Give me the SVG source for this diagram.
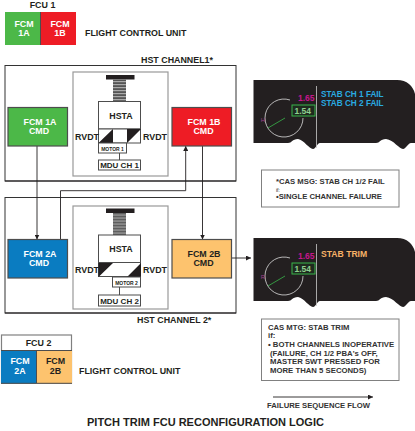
<svg xmlns="http://www.w3.org/2000/svg" width="415" height="431" viewBox="0 0 415 431">
<style>
text{font-family:"Liberation Sans",Arial,sans-serif;font-weight:bold;fill:#231f20}
.c{text-anchor:middle}
.w{fill:#fff}
.l{font-size:8.900px}
.h{font-size:8px}
.cmd{stroke:#4d4d4d;stroke-width:1.2}
.inner{fill:#fff;stroke:#999;stroke-width:1.2}
.box{fill:#fff;stroke:#333;stroke-width:1}
.n{fill:#fff;stroke:#4d4d4d;stroke-width:1}
.note{fill:#fff;stroke:#808080;stroke-width:1}
.conn{fill:none;stroke:#231f20;stroke-width:.9}
.t{font-size:7.700px;fill:#333}
.b{font-size:7.750px;fill:#333}
.gauge{fill:none;stroke:#ddd;stroke-width:.8}
</style>
<defs>
<marker id="a" markerWidth="5" markerHeight="5" refX="5" refY="2.5" orient="auto" markerUnits="userSpaceOnUse"><path d="M0 0L5 2.5L0 5z" fill="#231f20"/></marker>
<pattern id="s" width="4" height="3" patternUnits="userSpaceOnUse"><rect width="4" height="3" fill="#555"/><rect width="4" height="1.2" fill="#aaa"/></pattern>
<g id="act"><rect x="106" y="0" width="28.500" height="4.500" fill="#231f20"/><rect x="113" y="4.500" width="13" height="22" fill="url(#s)"/><rect x="98.500" y="26.500" width="42" height="27.500" class="n"/><rect x="98.500" y="54" width="42" height="14" class="n"/></g>
<g id="disp"><path d="M253.500 0H397C407 0 413 6 415 14V63H411C408 63 406 69 403 69C399 69 394 60 386 59C380 59 380 63 376 63H320C317 63 316 69 313 69C309 69 304 60 298 59C292 59 292 63 288 63H253.500Z" fill="#231f20"/><path d="M316.500 6V68" stroke="#ccc" stroke-width=".8"/><path d="M290 20A19 19 0 1 0 303 38" class="gauge"/><path d="M268 48L285 38" stroke="#39b54a" stroke-width=".8"/><rect x="292" y="25" width="23" height="11" fill="#1f2a1f" stroke="#39b54a" stroke-width="1"/><text x="298" y="20.500" font-size="8.500" style="fill:#c5168c">1.65</text><text x="294.500" y="34" font-size="8.500" style="fill:#8fd18f">1.54</text></g>
</defs>

<g id="fcu1"><text x="42.500" y="8" class="c l">FCU 1</text><rect x="5" y="12" width="35.500" height="33" fill="#4cb848"/><rect x="40.500" y="12" width="35.500" height="33" fill="#ee1c25"/><path d="M40.500 12V45" stroke="#4d4d4d"/><text x="24" y="26.500" class="c l w">FCM</text><text x="24" y="36" class="c l w">1A</text><text x="60" y="26.500" class="c l w">FCM</text><text x="60" y="36" class="c l w">1B</text></g>
<text id="fcu1-label" x="85" y="36" class="l">FLIGHT CONTROL UNIT</text>

<g id="hst1"><text x="141" y="63" class="l">HST CHANNEL1*</text><rect x="5" y="65.500" width="231" height="115.500" class="box"/><path d="M5 181H236" stroke="#231f20" stroke-width="1.2"/></g>
<g id="hsta1"><rect x="73" y="72" width="95" height="104" class="inner"/><use href="#act" y="75"/><path d="M98.500 143L113 129V143ZM127 129H141L127 143Z" fill="#231f20"/><text x="121" y="119" class="c l">HSTA</text><text x="75" y="139.500" class="l">RVDT</text><text x="143" y="139.500" class="l">RVDT</text></g>
<g id="motor1"><rect x="98.500" y="143" width="28" height="10" class="n"/><text x="112.500" y="150.500" class="c" font-size="5">MOTOR 1</text></g>
<g id="mdu1"><path d="M119.500 153V160" stroke="#4d4d4d"/><rect x="98.500" y="160" width="42" height="10" class="n"/><text x="119.500" y="168" class="c h">MDU CH 1</text></g>

<g id="hst2"><rect x="5" y="197.500" width="231" height="115.500" class="box"/><path d="M5 313H236" stroke="#231f20" stroke-width="1"/><text x="137" y="322.500" class="l">HST CHANNEL 2*</text></g>
<g id="hsta2"><rect x="73" y="206" width="95" height="103" class="inner"/><use href="#act" y="208.500"/><path d="M98.500 263H113L98.500 277ZM141 263V277H127Z" fill="#231f20"/><text x="121" y="252" class="c l">HSTA</text><text x="75" y="272.500" class="l">RVDT</text><text x="143" y="272.500" class="l">RVDT</text></g>
<g id="motor2"><rect x="112.500" y="277" width="28" height="10" class="n"/><text x="126.500" y="284.500" class="c" font-size="5">MOTOR 2</text></g>
<g id="mdu2"><path d="M119.500 287V295" stroke="#4d4d4d"/><rect x="98.500" y="295" width="42" height="11" class="n"/><text x="119.500" y="303.500" class="c h">MDU CH 2</text></g>

<g id="connectors">
<path class="conn" d="M37 146V239.500" marker-end="url(#a)"/>
<path class="conn" d="M60.500 239.500V190.700H185.700V146" marker-end="url(#a)"/>
<path class="conn" d="M202.500 146V239.500" marker-end="url(#a)"/>
<path class="conn" d="M231.500 258H251" marker-end="url(#a)"/>
<path class="conn" d="M273 397H373" marker-end="url(#a)"/>
</g>

<g id="fcm1a"><rect x="8" y="107.500" width="59.500" height="38.500" fill="#4cb848" class="cmd"/><text x="40" y="125" class="c l w">FCM 1A</text><text x="39" y="134" class="c l w">CMD</text></g>
<g id="fcm1b"><rect x="172" y="107.500" width="59.500" height="38.500" fill="#ee1c25" class="cmd"/><text x="204" y="125" class="c l w">FCM 1B</text><text x="203.500" y="134" class="c l w">CMD</text></g>
<g id="fcm2a"><rect x="8" y="239.500" width="59.500" height="38.500" fill="#0a7cc1" class="cmd"/><text x="40" y="257" class="c l w">FCM 2A</text><text x="39" y="266" class="c l w">CMD</text></g>
<g id="fcm2b"><rect x="172" y="239.500" width="59.500" height="38.500" fill="#fdc36e" class="cmd"/><text x="204" y="257" class="c l">FCM 2B</text><text x="203.500" y="266" class="c l">CMD</text></g>

<g id="fcu2"><rect x="1.500" y="335" width="70" height="48" fill="#fff" stroke="#808080" stroke-width="1.200"/><text x="38.500" y="345.500" class="c l">FCU 2</text><rect x="1" y="350.500" width="35.500" height="33" fill="#0a7cc1"/><rect x="36.500" y="350.500" width="35.500" height="33" fill="#fdc36e"/><path d="M1 350.500H72M36.500 350.500V383M1 383.300H72" stroke="#4d4d4d"/><text x="20" y="364" class="c l w">FCM</text><text x="20" y="373.500" class="c l w">2A</text><text x="55.500" y="364" class="c l">FCM</text><text x="55.500" y="373.500" class="c l">2B</text></g>
<text id="fcu2-label" x="79" y="374" class="l">FLIGHT CONTROL UNIT</text>

<g id="display1"><use href="#disp" y="80"/><text x="263" y="122" font-size="6" style="fill:#a0408c;font-weight:normal" class="c">H</text><text x="321" y="97" font-size="8.200" style="fill:#29abe2">STAB CH 1 FAIL</text><text x="321" y="106" font-size="8.200" style="fill:#29abe2">STAB CH 2 FAIL</text></g>
<g id="display2"><use href="#disp" y="238"/><text x="263" y="279" font-size="6" style="fill:#a0408c;font-weight:normal" class="c">R</text><text x="321" y="257" font-size="8.600" style="fill:#f7b267">STAB TRIM</text></g>

<g id="note1"><rect x="261.500" y="170" width="137.500" height="37" class="note"/><text x="276" y="184" class="t">*CAS MSG: STAB CH 1/2 FAIL</text><text x="276" y="191.500" font-size="5" style="font-weight:normal">if:</text><text x="276" y="199" class="t">•SINGLE CHANNEL FAILURE</text></g>
<g id="note2"><rect x="261.500" y="319" width="137.500" height="61.500" class="note"/><text x="268" y="330" class="t">CAS MTG: STAB TRIM</text><text x="268" y="338" class="t">if:</text><text x="268" y="347" class="b">• BOTH CHANNELS INOPERATIVE</text><text x="270" y="355.500" class="b">(FAILURE, CH 1/2 PBA's OFF,</text><text x="270" y="364" class="b">MASTER SWT PRESSED FOR</text><text x="270" y="372.500" class="b">MORE THAN 5 SECONDS)</text></g>

<text id="flow-label" x="267" y="407.500" class="t">FAILURE SEQUENCE FLOW</text>
<text id="title" x="87" y="426" font-size="11">PITCH TRIM FCU RECONFIGURATION LOGIC</text>
</svg>
